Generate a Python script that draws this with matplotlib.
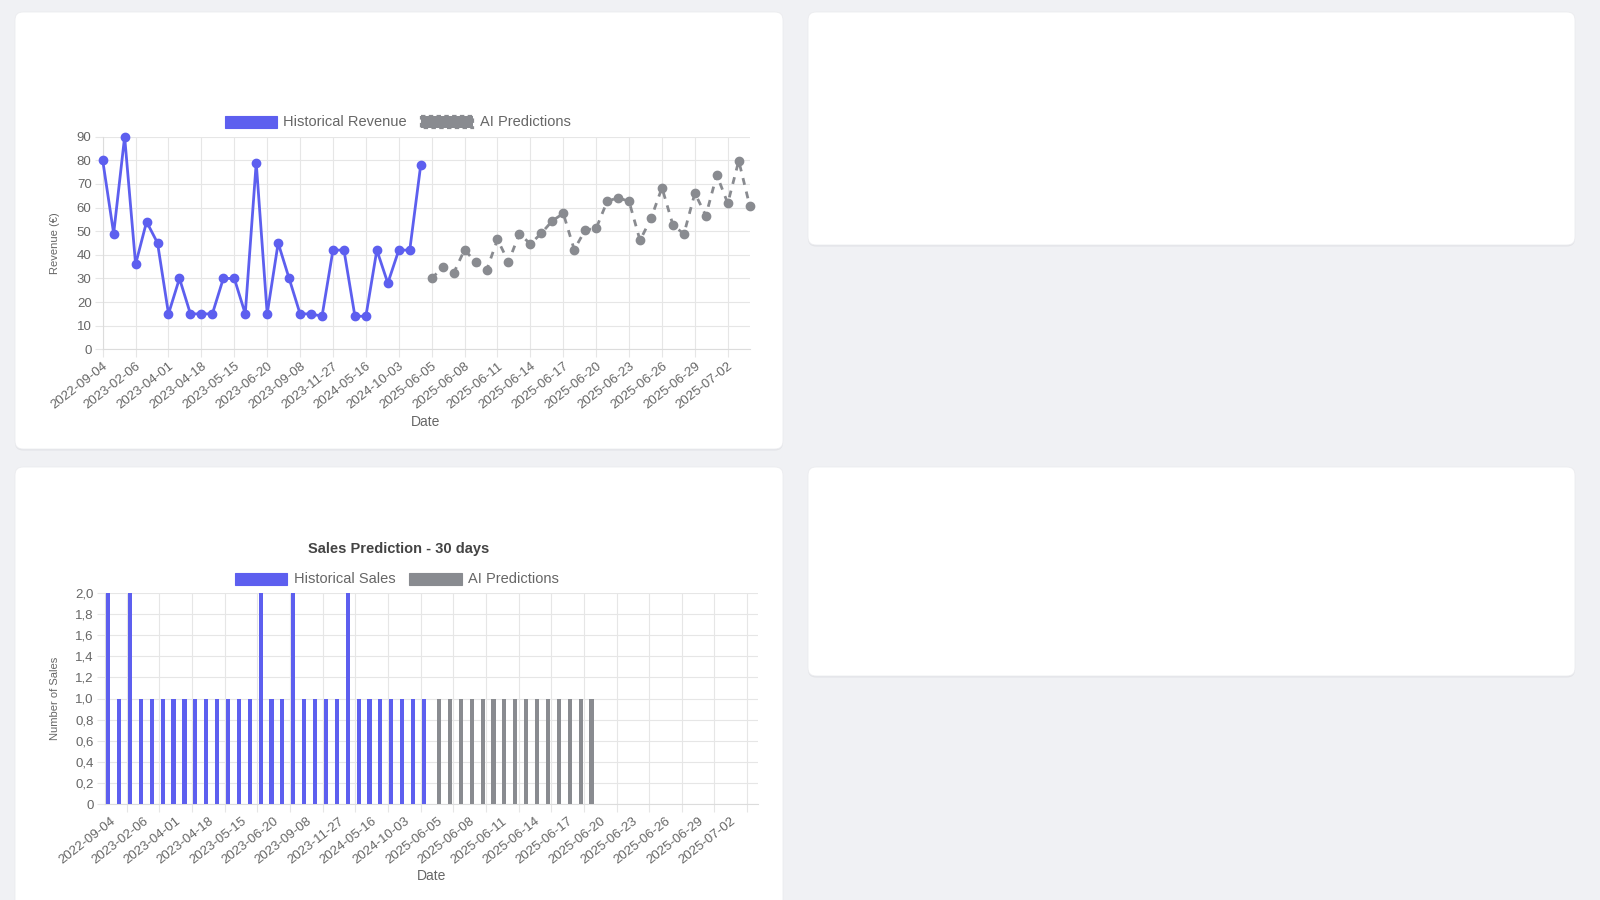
import matplotlib.pyplot as plt
import matplotlib.patches as mpatches
import pandas as pd

plt.rcParams['font.family'] = ['Liberation Sans', 'DejaVu Sans']

# ---- data ----
hist_dates = ["2022-09-04", "2022-11-12", "2023-01-15", "2023-02-06", "2023-02-27", "2023-03-14",
              "2023-04-01", "2023-04-08", "2023-04-12", "2023-04-18", "2023-04-27", "2023-05-06",
              "2023-05-15", "2023-05-29", "2023-06-08", "2023-06-20", "2023-07-14", "2023-08-10",
              "2023-09-08", "2023-10-02", "2023-10-30", "2023-11-27", "2024-01-18", "2024-03-22",
              "2024-05-16", "2024-07-04", "2024-08-20", "2024-10-03", "2025-01-14", "2025-04-09"]
pred_dates = [d.strftime("%Y-%m-%d") for d in pd.date_range("2025-06-05", periods=30, freq="D")]
labels = hist_dates + pred_dates

hist_revenue = [80, 49, 90, 36, 54, 45, 15, 30, 15, 15, 15, 30, 30, 15, 79,
                15, 45, 30, 15, 15, 14, 42, 42, 14, 14, 42, 28, 42, 42, 78]
pred_revenue = [30, 34.7, 32.2, 42.2, 36.8, 33.4, 46.5, 37, 48.9, 44.6, 49.1, 54.4, 57.5, 42.2, 50.5,
                51.2, 62.6, 64.2, 62.6, 46.1, 55.4, 68.4, 52.6, 48.8, 66.1, 56.6, 73.8, 61.8, 79.8, 60.8]

hist_sales = [2, 1, 2, 1, 1, 1, 1, 1, 1, 1, 1, 1, 1, 1, 2,
              1, 1, 2, 1, 1, 1, 1, 2, 1, 1, 1, 1, 1, 1, 1]
pred_sales = [1] * 15 + [0] * 15

BLUE = "#5d5fef"
GREY = "#898b90"
TXT = "#666666"
GRID = "#e6e6e6"
BG = "#f0f1f4"

W, H = 1600, 900
fig = plt.figure(figsize=(16, 9), dpi=100)
fig.patch.set_facecolor(BG)

# background layer in pixel coords
bg = fig.add_axes([0, 0, 1, 1])
bg.set_xlim(0, W)
bg.set_ylim(H, 0)
bg.axis("off")

def card(x0, y0, x1, y1):
    sh = mpatches.FancyBboxPatch((x0, y0 + 1.5), x1 - x0, y1 - y0, boxstyle="round,pad=0,rounding_size=8",
                                 fc="#e2e3e7", ec="none")
    bg.add_patch(sh)
    c = mpatches.FancyBboxPatch((x0, y0), x1 - x0, y1 - y0, boxstyle="round,pad=0,rounding_size=8",
                                fc="white", ec="#ebecef", lw=0.6)
    bg.add_patch(c)

card(15, 12, 783, 449)
card(808, 12, 1575, 245)
card(15, 467, 783, 910)
card(808, 467, 1575, 676)


def px_axes(x0, y0, x1, y1):
    a = fig.add_axes([x0 / W, 1 - y1 / H, (x1 - x0) / W, (y1 - y0) / H])
    a.set_facecolor("none")
    for s in ["top", "right"]:
        a.spines[s].set_visible(False)
    for s in ["left", "bottom"]:
        a.spines[s].set_color("#dcdcdc")
        a.spines[s].set_linewidth(0.8)
    return a


def style_ticks(a):
    a.tick_params(axis="both", which="both", colors=GRID, labelcolor=TXT, labelsize=9.5,
                  length=6, width=0.8, pad=2)
    plt.setp(a.get_xticklabels(), rotation=38, ha="right", rotation_mode="anchor")


tick_idx = list(range(0, len(labels), 3))
tick_lab = [labels[i] for i in tick_idx]

# ---- top: revenue line chart ----
ax1 = px_axes(102.7, 136.7, 749.7, 349.3)
n_h = len(hist_revenue)
x_hist = list(range(n_h))
x_pred = list(range(n_h, n_h + len(pred_revenue)))
ax1.plot(x_hist, hist_revenue, color=BLUE, lw=2.0, marker="o", ms=6, mec=BLUE, mfc=BLUE, zorder=3,
         clip_on=False)
ax1.plot(x_pred, pred_revenue, color=GREY, lw=2.0, ls=(0, (2.5, 2.5)), marker="o", ms=6, mec=GREY,
         mfc=GREY, zorder=3, clip_on=False)
ax1.set_xlim(0, len(labels) - 1)
ax1.set_ylim(0, 90)
ax1.set_yticks(range(0, 91, 10))
ax1.set_xticks(tick_idx)
ax1.set_xticklabels(tick_lab)
ax1.grid(True, color=GRID, lw=0.8)
ax1.set_axisbelow(True)
style_ticks(ax1)

# legend top
bg.add_patch(mpatches.Rectangle((225, 116), 52, 12, fc=BLUE, ec=BLUE, lw=0.8))
bg.text(283, 122.5, "Historical Revenue", color=TXT, fontsize=10.5, va="center", ha="left")
bg.add_patch(mpatches.Rectangle((421, 116), 52, 12, fc=GREY, ec=GREY, lw=1.6, ls=(0, (2, 1.5))))
bg.text(480, 122.5, "AI Predictions", color=TXT, fontsize=10.5, va="center", ha="left")
bg.text(55, 243, "Revenue (€)", color=TXT, fontsize=8, rotation=90, va="center", ha="center")
bg.text(426, 421.5, "Date", color=TXT, fontsize=10, va="center", ha="center")

# ---- bottom: sales bar chart ----
ax2 = px_axes(105, 592.7, 758, 804.3)
n = len(labels)
ax2.bar([i - 0.2 for i in range(len(hist_sales))], hist_sales, width=0.38, color=BLUE, zorder=3)
ax2.bar([i + 0.2 for i in range(len(hist_sales), n)], pred_sales, width=0.38, color=GREY, zorder=3)
ax2.set_xlim(-0.5, n - 0.5)
ax2.set_ylim(0, 2)
yt = [i / 10 for i in range(0, 21, 2)]
ax2.set_yticks(yt)
ax2.set_yticklabels(["0"] + [f"{v:.1f}".replace(".", ",") for v in yt[1:]])
ax2.set_xticks(tick_idx)
ax2.set_xticklabels(tick_lab)
ax2.set_xticks([i + 1.5 for i in tick_idx], minor=True)
ax2.grid(True, axis="y", color=GRID, lw=0.8)
ax2.grid(True, axis="x", which="minor", color=GRID, lw=0.8)
ax2.set_axisbelow(True)
style_ticks(ax2)
ax2.tick_params(axis="x", which="major", length=0, pad=8)

bg.text(399, 549, "Sales Prediction - 30 days", color="#444444", fontsize=10.5, fontweight="bold",
        va="center", ha="center")
bg.add_patch(mpatches.Rectangle((235, 572.5), 52, 12, fc=BLUE, ec=BLUE, lw=0.8))
bg.text(294, 579, "Historical Sales", color=TXT, fontsize=10.5, va="center", ha="left")
bg.add_patch(mpatches.Rectangle((409, 572.5), 53, 12, fc=GREY, ec=GREY, lw=0.8))
bg.text(468, 579, "AI Predictions", color=TXT, fontsize=10.5, va="center", ha="left")
bg.text(55, 698, "Number of Sales", color=TXT, fontsize=8, rotation=90, va="center", ha="center")
bg.text(431.5, 876.5, "Date", color=TXT, fontsize=10, va="center", ha="center")

fig.savefig("out.png", dpi=100, facecolor=BG)
